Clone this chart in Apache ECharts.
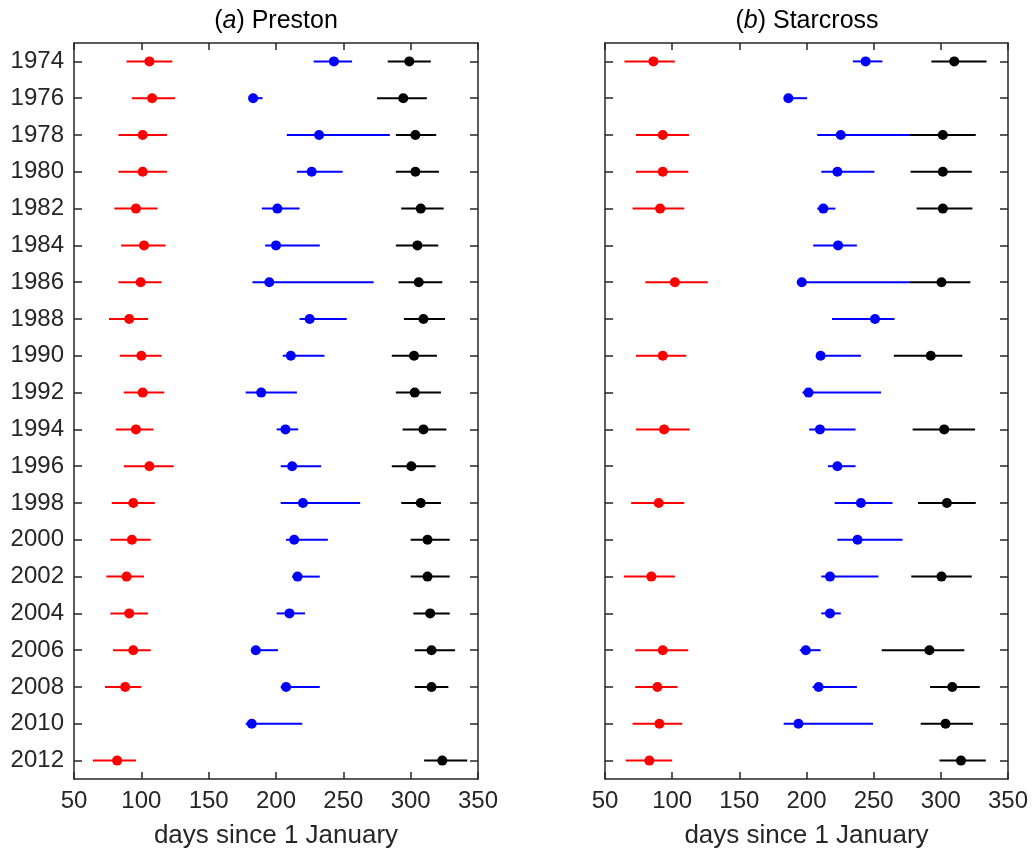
<!DOCTYPE html>
<html>
<head>
<meta charset="utf-8">
<script src="https://cdn.jsdelivr.net/npm/echarts@6/dist/echarts.min.js"></script>
<style>
  html, body { margin: 0; padding: 0; background: #fff; }
  #main { width: 1036px; height: 856px; }
</style>
</head>
<body>
<div id="main"></div>
<script>
// years on the vertical axis
let years = ['1974', '1976', '1978', '1980', '1982', '1984', '1986', '1988', '1990', '1992',
             '1994', '1996', '1998', '2000', '2002', '2004', '2006', '2008', '2010', '2012'];

// [low, estimate, high] per year, null where missing
let prestonRed = [
    [89, 106, 123], [93, 108, 125], [83, 101, 119], [83, 101, 119], [80, 96, 112],
    [85, 102, 118], [83, 99.5, 115], [76, 91, 105], [84, 100, 115], [87, 101, 117],
    [81, 96, 109], [87, 106, 124], [78, 94, 110], [77, 93, 107], [74, 89, 102],
    [77, 91, 105], [79, 94, 107], [73, 88, 100], null, [64, 82, 96]
];
let prestonBlue = [
    [228, 243, 256.5], [181, 183, 190], [208, 232, 284.5], [215.5, 226.5, 249.5], [189.5, 201, 217.5],
    [192, 200, 232.5], [182.5, 195, 272.5], [217.5, 225, 252.5], [205, 211, 236], [177.5, 189, 215.5],
    [200.5, 207, 216.5], [203.5, 212, 233.5], [203.5, 220, 262.5], [207.5, 213.5, 238.5], [212, 216, 232.5],
    [200.5, 210, 221.5], [182, 185, 201.5], [203.5, 207.5, 232.5], [177.5, 182, 219.5], null
];
let prestonBlack = [
    [283, 299, 315], [275, 294.5, 312], [289, 303.5, 319], [289, 303.5, 321], [293, 307.5, 324.5],
    [289, 305, 320.5], [291, 306, 323.5], [295, 309.5, 325.5], [286, 302.5, 319.5], [289, 303, 322.5],
    [294, 309.5, 326.5], [286, 300.5, 318.5], [293, 307.5, 322.5], [300, 312.5, 329], [300, 312.5, 329],
    [302, 314.5, 329], [303, 315.5, 333], [303, 315.5, 328], null, [310, 323.5, 342]
];

let starcrossRed = [
    [64.5, 86, 102], null, [73, 93, 112.5], [73, 93, 112], [70.5, 91, 109],
    null, [80, 102, 126.5], null, [73, 93, 110.5], null,
    [73, 94, 113], null, [69.5, 90, 109], null, [64, 84.5, 102],
    null, [72.5, 93, 112], [72.5, 89, 104], [70.5, 90.5, 107.5], [65.5, 83, 100]
];
let starcrossBlue = [
    [234.5, 244, 256.5], [185, 186.5, 200.5], [208, 225.5, 277], [211, 223, 250.5], [208, 212.5, 221.5],
    [205, 223.5, 237.5], [195.5, 196.5, 277], [219, 251, 265.5], [209.5, 210.5, 240.5], [197, 201.5, 255.5],
    [202, 210, 236.5], [216, 223, 236.5], [221, 240.5, 264], [223, 238, 271.5], [211, 217.5, 253.5],
    [211, 217.5, 225.5], [195, 199.5, 210.5], [204.5, 209, 237.5], [183, 194, 249.5], null
];
let starcrossBlack = [
    [293, 310, 334], null, [277, 301.5, 326], [277.5, 301.5, 323], [282, 301.5, 323.5],
    null, [277, 300.5, 322], null, [265, 292.5, 316], null,
    [279, 302.5, 325.5], null, [283, 304.5, 326], null, [278, 300.5, 323],
    null, [256, 291.5, 317.5], [292, 308.5, 329], [285, 303.5, 324], [299, 315, 333.5]
];

let xTicks = { min: 50, max: 350, interval: 50 };

let textColor = '#262626';
let fontFamily = '"Liberation Sans", Arial, sans-serif';

self.toRanges = function(rows) {
    let data = [];
    rows.forEach((row, i) => {
        if (row) {
            data.push([row[0], row[2], i]);
        }
    });
    return data;
};

self.toPoints = function(rows) {
    let data = [];
    rows.forEach((row, i) => {
        if (row) {
            data.push([row[1], i]);
        }
    });
    return data;
};

self.rangeSeries = function(rows, color, axis) {
    return {
        type: 'custom',
        xAxisIndex: axis * 2,
        yAxisIndex: axis * 2,
        data: self.toRanges(rows),
        encode: { x: [0, 1], y: 2 },
        silent: true,
        z: 2,
        renderItem: function(params, api) {
            let a = api.coord([api.value(0), api.value(2)]);
            let b = api.coord([api.value(1), api.value(2)]);
            return {
                type: 'line',
                shape: { x1: a[0], y1: a[1], x2: b[0], y2: b[1] },
                style: { stroke: color, lineWidth: 2 }
            };
        }
    };
};

self.pointSeries = function(rows, color, axis) {
    return {
        type: 'scatter',
        xAxisIndex: axis * 2,
        yAxisIndex: axis * 2,
        data: self.toPoints(rows),
        symbol: 'circle',
        symbolSize: 10,
        itemStyle: { color: color, opacity: 1 },
        silent: true,
        z: 3
    };
};

let grids = [
    { left: 74, right: 558, top: 43, bottom: 77 },
    { left: 605, right: 28, top: 43, bottom: 77 }
];

let lineStyle = { color: textColor, width: 1.5 };

let xAxes = [];
let yAxes = [];
grids.forEach((g, i) => {
    xAxes.push({
        type: 'value',
        gridIndex: i,
        min: xTicks.min,
        max: xTicks.max,
        interval: xTicks.interval,
        position: 'bottom',
        name: 'days since 1 January',
        nameLocation: 'middle',
        nameGap: 44,
        nameTextStyle: { color: textColor, fontSize: 26, fontFamily: fontFamily },
        axisLine: { show: true, onZero: false, lineStyle: lineStyle },
        axisTick: { show: true, inside: true, length: 7, lineStyle: lineStyle },
        axisLabel: { color: textColor, fontSize: 24, fontFamily: fontFamily, margin: 10 },
        splitLine: { show: false }
    });
    xAxes.push({
        type: 'value',
        gridIndex: i,
        min: xTicks.min,
        max: xTicks.max,
        interval: xTicks.interval,
        position: 'top',
        axisLine: { show: true, onZero: false, lineStyle: lineStyle },
        axisTick: { show: true, inside: true, length: 7, lineStyle: lineStyle },
        axisLabel: { show: false },
        splitLine: { show: false }
    });
    yAxes.push({
        type: 'category',
        gridIndex: i,
        data: years,
        inverse: true,
        position: 'left',
        axisLine: { show: true, onZero: false, lineStyle: lineStyle },
        axisTick: { show: true, inside: true, length: 8, alignWithLabel: true, lineStyle: lineStyle },
        axisLabel: { show: i === 0, color: textColor, fontSize: 24, fontFamily: fontFamily, margin: 10 },
        splitLine: { show: false }
    });
    yAxes.push({
        type: 'category',
        gridIndex: i,
        data: years,
        inverse: true,
        position: 'right',
        axisLine: { show: true, onZero: false, lineStyle: lineStyle },
        axisTick: { show: true, inside: true, length: 8, alignWithLabel: true, lineStyle: lineStyle },
        axisLabel: { show: false },
        splitLine: { show: false }
    });
});

let titleStyle = {
    color: '#000',
    fontSize: 25,
    fontWeight: 'normal',
    fontFamily: fontFamily,
    rich: {
        i: { fontStyle: 'italic', fontWeight: 'normal', fontSize: 25, fontFamily: fontFamily, color: '#000' }
    }
};

let option = {
    animation: false,
    backgroundColor: '#fff',
    title: [
        { text: '({i|a}) Preston', left: 276, top: 9, textAlign: 'center', padding: 0, textStyle: titleStyle },
        { text: '({i|b}) Starcross', left: 807, top: 9, textAlign: 'center', padding: 0, textStyle: titleStyle }
    ],
    grid: grids,
    xAxis: xAxes,
    yAxis: yAxes,
    series: [
        self.rangeSeries(prestonRed, '#ff0000', 0),
        self.rangeSeries(prestonBlue, '#0000ff', 0),
        self.rangeSeries(prestonBlack, '#000000', 0),
        self.pointSeries(prestonRed, '#ff0000', 0),
        self.pointSeries(prestonBlue, '#0000ff', 0),
        self.pointSeries(prestonBlack, '#000000', 0),
        self.rangeSeries(starcrossRed, '#ff0000', 1),
        self.rangeSeries(starcrossBlue, '#0000ff', 1),
        self.rangeSeries(starcrossBlack, '#000000', 1),
        self.pointSeries(starcrossRed, '#ff0000', 1),
        self.pointSeries(starcrossBlue, '#0000ff', 1),
        self.pointSeries(starcrossBlack, '#000000', 1)
    ]
};

let chart = echarts.init(document.getElementById('main'));
chart.setOption(option);
</script>
</body>
</html>
